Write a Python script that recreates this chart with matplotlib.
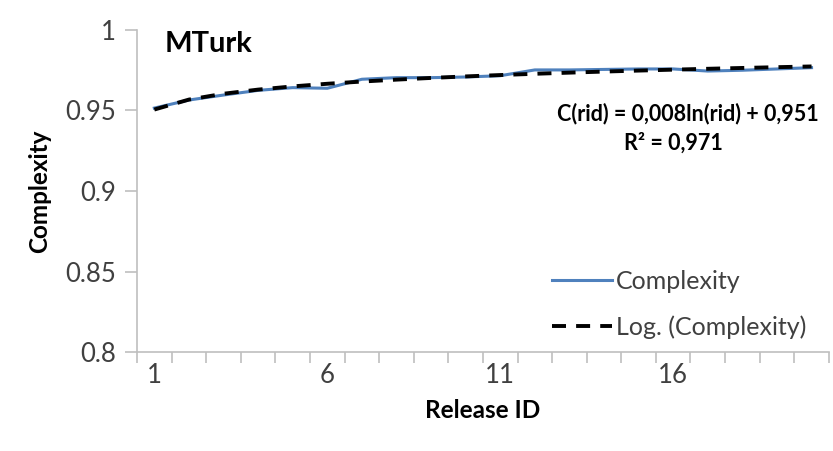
import matplotlib
matplotlib.use("Agg")
import matplotlib.pyplot as plt
import numpy as np

releases = list(range(1, 21))
complexity = [0.9515, 0.9565, 0.9596, 0.9625, 0.9642, 0.9638, 0.9694, 0.9704,
              0.9704, 0.9708, 0.9716, 0.9752, 0.9752, 0.9755, 0.9758, 0.9758,
              0.9745, 0.9750, 0.9758, 0.9766]
y_ticks = [0.8, 0.85, 0.9, 0.95, 1]
y_tick_labels = ["0.8", "0.85", "0.9", "0.95", "1"]
x_tick_labels = ["1", "6", "11", "16"]

plt.rcParams["font.family"] = ["Lato", "DejaVu Sans"]

x = np.array(releases, dtype=float)
y = np.array(complexity)

# log trendline fitted to the series
a, b = np.polyfit(np.log(x), y, 1)
trend = a * np.log(x) + b

fig = plt.figure(figsize=(8.33, 4.51), dpi=100)
ax = fig.add_axes([0.1645, 0.2195, 0.8305, 0.714])

ax.plot(x, y, color="#4F81BD", lw=2.2, label="Complexity", zorder=2)
ax.plot(x, trend, color="black", lw=2.8, ls=(0, (3.6, 2.6)),
        label="Log. (Complexity)", zorder=3)

ax.set_xlim(0.5, 20.5)
ax.set_ylim(0.8, 1.0)

ax.set_yticks(y_ticks)
ax.set_yticklabels(y_tick_labels)
ax.set_xticks([int(t) for t in x_tick_labels])
ax.set_xticklabels(x_tick_labels)
ax.set_xticks(np.arange(0.5, 21, 1), minor=True)

grey = "#bfbfbf"
txt = "#404040"
for s in ["top", "right"]:
    ax.spines[s].set_visible(False)
for s in ["left", "bottom"]:
    ax.spines[s].set_color(grey)
    ax.spines[s].set_linewidth(1.2)

ax.tick_params(axis="y", length=9, width=1.2, color=grey, labelsize=18.5,
               labelcolor=txt, pad=6)
ax.tick_params(axis="x", which="major", length=0, labelsize=18.5,
               labelcolor=txt, pad=8)
ax.tick_params(axis="x", which="minor", length=8, width=1.2, color=grey)

ax.set_xlabel("Release ID", fontsize=17.5, fontweight="bold", labelpad=8)
ax.set_ylabel("Complexity", fontsize=17.5, fontweight="bold", labelpad=10)

ax.text(0.04, 0.955, "MTurk", transform=ax.transAxes, fontsize=21,
        fontweight="bold", va="center", ha="left")
ax.text(0.985, 0.74, "C(rid) = 0,008ln(rid) + 0,951", transform=ax.transAxes,
        fontsize=15.5, fontweight="bold", ha="right", va="center")
ax.text(0.775, 0.65, "R² = 0,971", transform=ax.transAxes,
        fontsize=15.5, fontweight="bold", ha="center", va="center")

ax.legend(loc="lower right", bbox_to_anchor=(1.0, -0.03), frameon=False,
          fontsize=18, handlelength=2.4, handletextpad=0.15, labelspacing=0.9,
          labelcolor=txt)

fig.savefig("out.png", dpi=100)
